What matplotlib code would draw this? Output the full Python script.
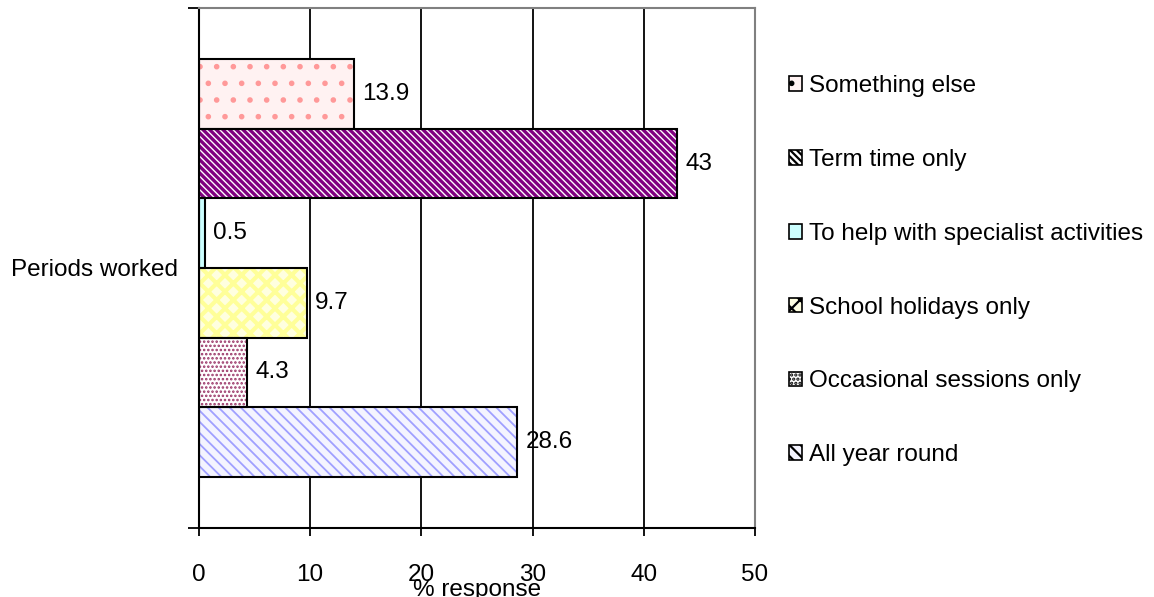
import matplotlib.pyplot as plt
from matplotlib.patches import Patch

plt.rcParams['font.family'] = ['Liberation Sans', 'DejaVu Sans']
plt.rcParams['font.size'] = 17.5
plt.rcParams['hatch.linewidth'] = 1.6

# data (bottom to top as drawn)
categories = ['All year round', 'Occasional sessions only', 'School holidays only',
              'To help with specialist activities', 'Term time only', 'Something else']
values = [28.6, 4.3, 9.7, 0.5, 43, 13.9]
value_labels = ['28.6', '4.3', '9.7', '0.5', '43', '13.9']
group_label = 'Periods worked'

# fill / hatch styling per series
fills = ['#F4F4FF', '#FFFFFF', '#FFFFE0', '#CCFFFF', '#FFFFFF', '#FFF2F2']
hatch_colors = ['#A0A0FF', '#993366', '#FFFF99', '#CCFFFF', '#800080', '#FF9999']
hatches = ['\\\\\\', '....', 'xx', '', '\\\\\\\\\\', '.']
hatch_lw = [1.3, 1.2, 3.0, 1.0, 2.4, 1.6]

fig = plt.figure(figsize=(11.54, 5.97), dpi=100)
ax = fig.add_axes([0.1724, 0.1156, 0.4818, 0.8710])

n = len(values)
w = 0.1337
offsets = [(i - (n - 1) / 2) * w for i in range(n)]

for i in range(n):
    # hatch layer (hatch colour follows edgecolor), then black outline
    with plt.rc_context({'hatch.linewidth': hatch_lw[i]}):
        ax.barh(offsets[i], values[i], height=w, color=fills[i], hatch=hatches[i],
                edgecolor=hatch_colors[i], linewidth=0, zorder=2)
    ax.barh(offsets[i], values[i], height=w, fill=False, edgecolor='black',
            linewidth=1.5, zorder=3)
    ax.text(values[i] + 0.75, offsets[i], value_labels[i], va='center', ha='left',
            fontsize=17.5, zorder=4)

ax.set_xlim(0, 50)
ax.set_ylim(-0.5, 0.5)
ax.set_xticks([0, 10, 20, 30, 40, 50])
ax.tick_params(axis='x', length=6, width=1.3, pad=20, labelsize=17.5)
ax.set_yticks([-0.5, 0.5])
ax.set_yticklabels(['', ''])
ax.tick_params(axis='y', length=8, width=1.3)
ax.set_yticks([0], minor=True)
ax.set_yticklabels([group_label], minor=True)
ax.tick_params(axis='y', which='minor', length=0, pad=15, labelsize=17.5)

ax.set_axisbelow(True)
ax.grid(axis='x', color='black', linewidth=1.3)
ax.spines['left'].set_linewidth(1.5)
ax.spines['bottom'].set_linewidth(1.5)
for s in ['top', 'right']:
    ax.spines[s].set_color('#808080')
    ax.spines[s].set_linewidth(1.5)

ax.set_xlabel('% response', fontsize=17.5)
ax.xaxis.set_label_coords(0.5, -0.099)

handles = [Patch(facecolor=fills[i], edgecolor='black', hatch=hatches[i], linewidth=1.2)
           for i in range(n)][::-1]
fig.legend(handles, categories[::-1], loc='upper left', bbox_to_anchor=(0.675, 0.89),
           frameon=False, handlelength=0.55, handleheight=0.55, handletextpad=0.3,
           labelspacing=2.13, fontsize=17.5, borderaxespad=0)

fig.savefig('out.png', dpi=100)
